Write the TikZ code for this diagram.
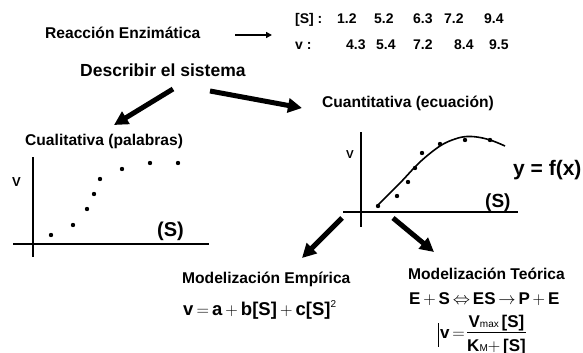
\documentclass[tikz,border=0pt]{standalone}
\usepackage{fontspec}
\setmainfont{Liberation Sans}
\usetikzlibrary{arrows.meta}
\begin{document}
\begin{tikzpicture}[x=1pt,y=-1pt,
  txt/.style={inner sep=0pt, anchor=base west, font=\fontsize{15.6}{18}\selectfont\bfseries},
  tab/.style={inner sep=0pt, anchor=base west, font=\fontsize{14}{16}\selectfont\bfseries},
  axis/.style={line width=2pt},
  dot/.style={circle, fill=black, inner sep=0pt, minimum size=4.4pt},
  bigarrow/.style={line width=5pt, -{Triangle[length=14pt,width=14pt]}},
  thinarrow/.style={line width=1.5pt, -{Triangle[length=6pt,width=6pt]}}]
\useasboundingbox (0,0) rectangle (583,353);
% top
\node[txt] (reac) at (45,38.6) {Reacción Enzimática};
\coordinate (ra1) at (235,35); \coordinate (ra2) at (272,35);
\draw[thinarrow] (ra1) -- (ra2);
\node[tab] (s0) at (295,24) {[S] :};
\node[tab] (s1) at (337,24) {1.2};
\node[tab] (s2) at (374,24) {5.2};
\node[tab] (s3) at (413,24) {6.3};
\node[tab] (s4) at (444,24) {7.2};
\node[tab] (s5) at (484,24) {9.4};
\node[tab] (v0) at (295,50) {v\hspace{4pt}:};
\node[tab] (v1) at (346,50) {4.3};
\node[tab] (v2) at (376,50) {5.4};
\node[tab] (v3) at (413,50) {7.2};
\node[tab] (v4) at (454,50) {8.4};
\node[tab] (v5) at (489,50) {9.5};
\node[txt, font=\fontsize{17.5}{20}\selectfont\bfseries] (desc) at (80,76.3) {Describir el sistema};
\coordinate (la1) at (173,89); \coordinate (la2) at (114,125);
\coordinate (rb1) at (210,91); \coordinate (rb2) at (302,108);
\draw[bigarrow] (la1) -- (la2);
\draw[bigarrow] (rb1) -- (rb2);
\node[txt] (cual) at (25,145) {Cualitativa (palabras)};
\node[txt] (cuan) at (322,107) {Cuantitativa (ecuación)};
% left graph
\coordinate (lv1) at (33,157); \coordinate (lv2) at (33,257);
\coordinate (lh1) at (13,244); \coordinate (lh2) at (209,244);
\draw[axis] (lv1) -- (lv2);
\draw[axis] (lh1) -- (lh2);
\node[txt, font=\fontsize{13}{15}\selectfont\bfseries] (lV) at (12,186) {V};
\node[txt, font=\fontsize{20}{22}\selectfont\bfseries] (lS) at (157,236) {(S)};
\foreach \p [count=\i] in {(51,235),(73,225),(87,209),(94,194),(100,179),(122,169),(150,163),(178,163)}
  \node[dot] (ld\i) at \p {};
% right graph
\coordinate (rv1) at (361,132); \coordinate (rv2) at (361,227);
\coordinate (rh1) at (343,212); \coordinate (rh2) at (518,212);
\draw[axis] (rv1) -- (rv2);
\draw[axis] (rh1) -- (rh2);
\node[txt, font=\fontsize{11.5}{13}\selectfont\bfseries] (rV) at (346,158) {V};
\node[txt, font=\fontsize{19}{21}\selectfont\bfseries] (rS) at (485,207) {(S)};
\node[txt, font=\fontsize{21}{24}\selectfont\bfseries] (yf) at (513,175) {y = f(x)};
\draw[line width=1.6pt] plot[smooth, tension=0.6] coordinates {(378,205) (400,183) (420,162) (440,146) (455,139) (467,136.5) (480,137.5) (493,141) (505,146)};
\foreach \p [count=\i] in {(378,206),(397,196),(408,182),(415,168),(422,153),(440,144),(465,140),(490,140)}
  \node[dot] (rd\i) at \p {};
% bottom arrows
\coordinate (ba1) at (342,218); \coordinate (ba2) at (302,258);
\coordinate (bb1) at (393,218); \coordinate (bb2) at (434,252);
\draw[bigarrow] (ba1) -- (ba2);
\draw[bigarrow] (bb1) -- (bb2);
% models
\node[txt] (emp) at (182,283) {Modelización Empírica};
\node[txt, font=\fontsize{18.5}{20}\selectfont\bfseries] (eq1) at (183,315) {v\,$=$\,a\,$+$\,b[S]\,$+$\,c[S]\raisebox{8pt}{\fontsize{10}{10}\selectfont\mdseries 2}};
\node[txt] (teo) at (408,279) {Modelización Teórica};
\node[txt, font=\fontsize{17}{19}\selectfont\bfseries] (eq2) at (409,304) {E\,$+$\,S\,$\Leftrightarrow$\,ES\,$\rightarrow$\,P\,$+$\,E};
\node[txt, font=\fontsize{17}{19}\selectfont\bfseries] (fv) at (440,338.5) {v\,$=$};
\node[inner sep=0pt, anchor=base, font=\fontsize{17}{19}\selectfont\bfseries] (num) at (496.5,327.5) {V{\fontsize{10}{10}\selectfont\mdseries max}\,[S]};
\coordinate (fb1) at (467,332.5); \coordinate (fb2) at (526,332.5);
\draw[line width=1pt] (fb1) -- (fb2);
\node[inner sep=0pt, anchor=base, font=\fontsize{17}{19}\selectfont\bfseries] (den) at (496.5,351) {K{\fontsize{10}{10}\selectfont\mdseries M}$+$\,[S]};
\coordinate (cu1) at (438,323); \coordinate (cu2) at (438,347);
\draw[line width=0.8pt] (cu1) -- (cu2);
\end{tikzpicture}
\end{document}
